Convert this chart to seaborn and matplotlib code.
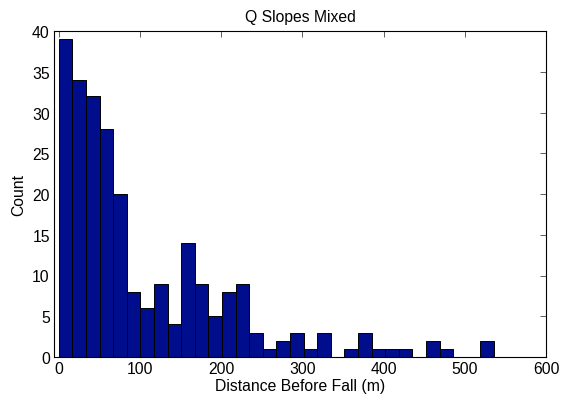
import numpy as np
import pandas as pd
import matplotlib
matplotlib.use("Agg")
import matplotlib.pyplot as plt
import seaborn as sns

# Histogram counts (32 equal bins from 0 to ~536 m)
counts = [39, 34, 32, 28, 20, 8, 6, 9, 4, 14, 9, 5, 8, 9, 3, 1,
          2, 3, 1, 3, 0, 1, 3, 1, 1, 1, 0, 2, 1, 0, 0, 2]
bin_start = 0.0
bin_stop = 536.0
x_ticks = [0, 100, 200, 300, 400, 500, 600]
y_ticks = [0, 5, 10, 15, 20, 25, 30, 35, 40]
title = "Q Slopes Mixed"
x_label = "Distance Before Fall (m)"
y_label = "Count"

edges = np.linspace(bin_start, bin_stop, len(counts) + 1)
centers = (edges[:-1] + edges[1:]) / 2
df = pd.DataFrame({"distance": centers, "count": np.array(counts, dtype=float)})

sns.set_style("white")
plt.rcParams['font.family'] = ['Liberation Sans', 'DejaVu Sans']
plt.rcParams['text.color'] = 'black'
plt.rcParams['axes.labelcolor'] = 'black'
plt.rcParams['xtick.color'] = 'black'
plt.rcParams['ytick.color'] = 'black'

fig = plt.figure(figsize=(5.63, 4.02), dpi=100)
ax = fig.add_axes([54/563, 44/402, (546-54)/563, (358-32)/402])

sns.histplot(data=df, x="distance", weights="count", bins=len(counts),
             binrange=(bin_start, bin_stop), ax=ax,
             color="#000d8c", edgecolor="black", linewidth=0.7, alpha=1.0)

ax.set_xlim(-6, 600)
ax.set_ylim(0, 40)
ax.set_xticks(x_ticks)
ax.set_yticks(y_ticks)
ax.tick_params(direction="in", top=True, right=True, length=4, width=0.6,
               labelsize=11.3, labelcolor="black", color="#444444", pad=3)
for s in ax.spines.values():
    s.set_visible(True)
    s.set_color("black")
    s.set_linewidth(0.8)
ax.set_title(title, fontsize=11.3, pad=7, color="black")
ax.set_xlabel(x_label, fontsize=11.3, labelpad=1, color="black")
ax.set_ylabel(y_label, fontsize=11.3, labelpad=4, color="black")

fig.savefig("out.png", dpi=100)
